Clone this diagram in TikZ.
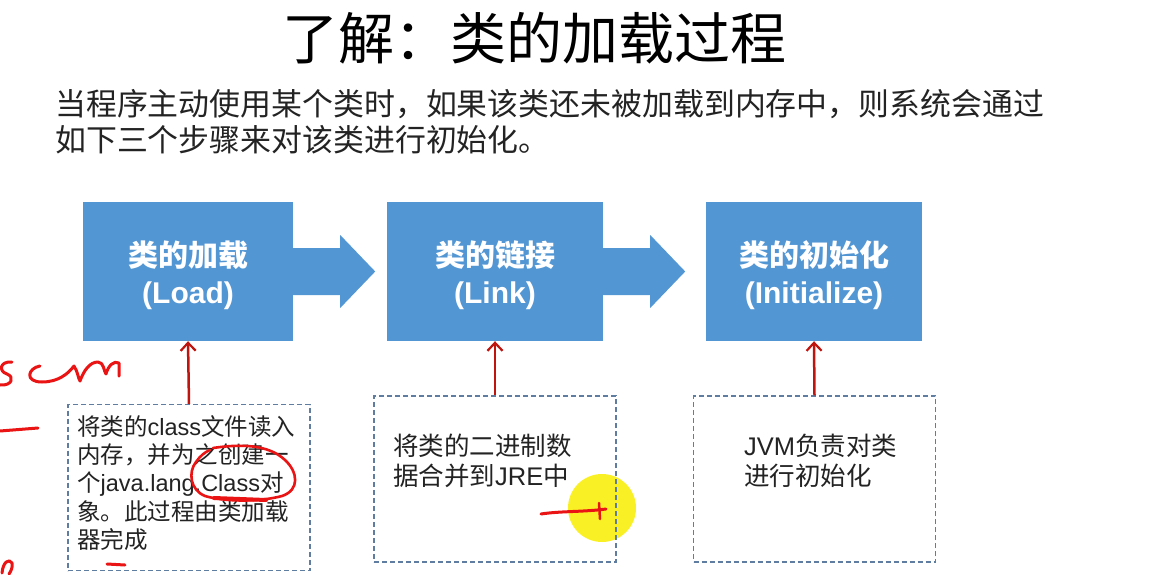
\documentclass[tikz,border=0pt]{standalone}
\usepackage{fontspec}
\setmainfont{Liberation Sans}
\newfontfamily\cjk{Noto Sans CJK SC}
\usetikzlibrary{arrows.meta}
\definecolor{boxblue}{RGB}{83,150,212}
\definecolor{arrred}{RGB}{192,20,15}
\definecolor{penred}{RGB}{235,20,20}
\definecolor{dashcol}{RGB}{95,125,160}
\definecolor{txt}{RGB}{35,35,35}
\definecolor{hilite}{RGB}{250,238,0}
\tikzset{
  stepbox/.style={fill=boxblue, draw=none, text=white, align=center,
    minimum height=139pt, inner sep=0pt,
    font=\fontsize{30}{37}\selectfont},
  blockarrow/.style={fill=boxblue, draw=none},
  descbox/.style={draw=dashcol, line width=1.2pt, dash pattern=on 5pt off 3pt,
    minimum width=242pt, minimum height=166pt, inner sep=0pt},
  desctext/.style={anchor=north west, align=left, inner sep=0pt, text=txt},
  uparrow/.style={draw=arrred, line width=2.5pt, -{Straight Barb[length=8pt,width=15pt,line width=2.2pt]}},
  pen/.style={draw=penred, line width=3pt, line cap=round, line join=round}
}
\begin{document}
\begin{tikzpicture}[x=1pt,y=-1pt]
\useasboundingbox (0,0) rectangle (1162,575);
\fill[white] (0,0) rectangle (1162,575);

% title and intro
\node[font=\cjk\fontsize{56}{60}\selectfont, text=black, inner sep=0pt] (title) at (534,38) {了解：类的加载过程};
\node[font=\cjk\fontsize{30.9}{36}\selectfont, text=txt, align=left, anchor=west, inner sep=0pt] (intro) at (55,122)
  {当程序主动使用某个类时，如果该类还未被加载到内存中，则系统会通过\\如下三个步骤来对该类进行初始化。};

% step boxes
\node[stepbox, minimum width=210pt] (load) at (188,271.5) {};
\node[stepbox, minimum width=216pt] (link) at (495,271.5) {};
\node[stepbox, minimum width=216pt] (init) at (814,271.5) {};
\node[stepbox, fill=none, minimum height=0pt] (loadtext) at ([yshift=-4pt]load.center) {{\cjk\bfseries 类的加载}\\\textbf{(Load)}};
\node[stepbox, fill=none, minimum height=0pt] (linktext) at ([yshift=-4pt]link.center) {{\cjk\bfseries 类的链接}\\\textbf{(Link)}};
\node[stepbox, fill=none, minimum height=0pt] (inittext) at ([yshift=-4pt]init.center) {{\cjk\bfseries 类的初始化}\\\textbf{(Initialize)}};

% block arrows
\fill[blockarrow] (load.east) ++(0,-23.5) -- ++(47,0) -- ++(0,-13) -- ++(35,36.5) -- ++(-35,36.5) -- ++(0,-13) -- ++(-47,0) -- cycle;
\fill[blockarrow] (link.east) ++(0,-23.5) -- ++(47,0) -- ++(0,-13) -- ++(35,36.5) -- ++(-35,36.5) -- ++(0,-13) -- ++(-47,0) -- cycle;

% highlight circle (cursor)
\fill[hilite, opacity=0.85] (602,508) circle (34);

% description boxes
\node[descbox] (descA) at (189,487.5) {};
\node[descbox] (descB) at (495,479) {};
\node[descbox] (descC) at (814.5,479) {};

\node[desctext, font=\fontsize{23.5}{28.3}\selectfont] (textA) at (77,415)
  {{\cjk 将类的}class{\cjk 文件读入}\\{\cjk 内存，并为之创建一}\\{\cjk 个}java.lang.Class{\cjk 对}\\{\cjk 象。此过程由类加载}\\{\cjk 器完成}};
\node[desctext, font=\fontsize{25.5}{30}\selectfont] (textB) at (393,434)
  {{\cjk 将类的二进制数}\\{\cjk 据合并到}JRE{\cjk 中}};
\node[desctext, font=\fontsize{25.5}{30}\selectfont] (textC) at (744,434)
  {JVM{\cjk 负责对类}\\{\cjk 进行初始化}};

% red up arrows
\draw[uparrow] (descA.north) -- (load.south);
\draw[uparrow] (descB.north) -- (link.south);
\draw[uparrow] (descC.north) -- (init.south);

% handwritten pen marks
\draw[pen] (12,362) .. controls (0,361) and (-2,371) .. (7,374) .. controls (15,377) and (12,386) .. (0,385);
\draw[pen] (40,366) .. controls (28,368) and (24,382) .. (42,382) .. controls (58,382) and (68,374) .. (74,366)
  .. controls (78,372) and (78,378) .. (80,381) .. controls (84,370) and (90,362) .. (98,362)
  .. controls (104,362) and (104,372) .. (106,374) .. controls (108,366) and (114,360) .. (119,363) -- (119,376);
\draw[pen] (0,431) -- (38,428);
\draw[pen] (2,573) .. controls (3,562) and (9,558) .. (12,563) .. controls (13,567) and (11,571) .. (9,574);
\draw[pen, line width=2.6pt] (213,448) .. controls (240,444) and (268,444) .. (285,460)
  .. controls (298,472) and (300,490) .. (282,496) .. controls (260,502) and (225,502) .. (205,496)
  .. controls (190,490) and (188,472) .. (196,462) .. controls (200,456) and (205,452) .. (210,450);
\draw[pen, line width=4pt] (214,498) -- (266,500);
\draw[pen] (107,564) -- (125,565);
\draw[pen] (541,514) .. controls (560,511) and (585,512) .. (606,509);
\draw[pen, line width=2.5pt] (599,503) -- (600,519);
\end{tikzpicture}
\end{document}
